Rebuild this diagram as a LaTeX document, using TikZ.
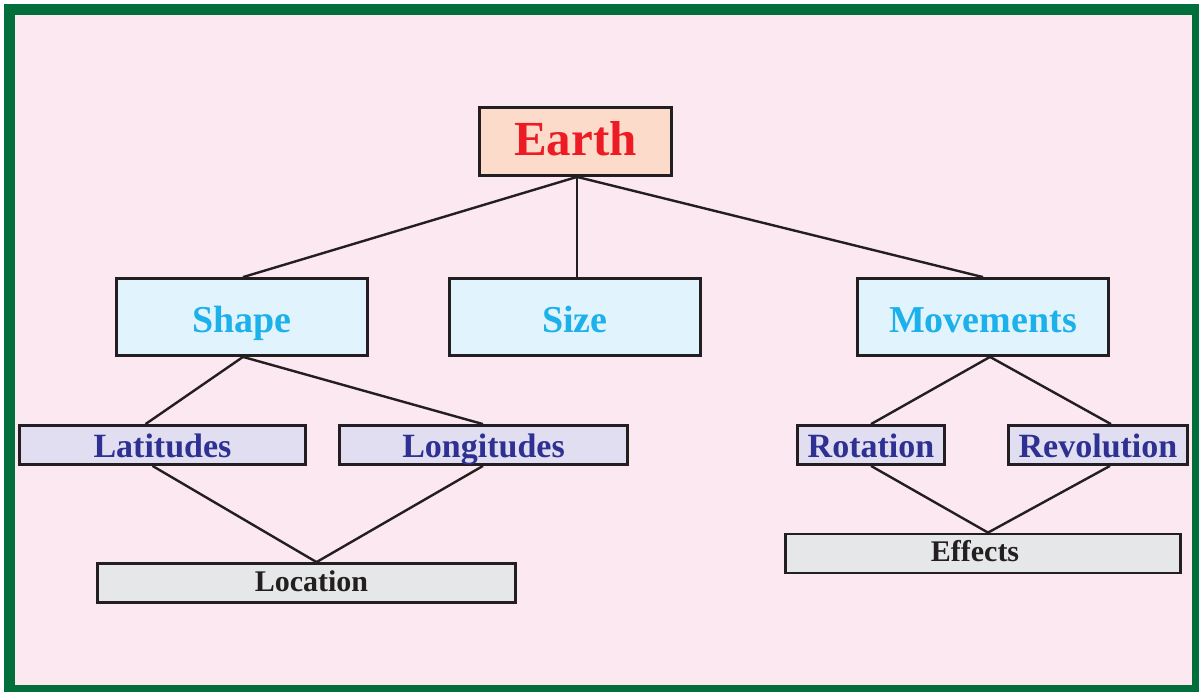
\documentclass[tikz,border=0pt]{standalone}
\usepackage{fontspec}
\setmainfont{Liberation Serif}
\usetikzlibrary{calc}
\definecolor{bgpink}{HTML}{FCE8F0}
\definecolor{frame}{HTML}{006F3C}
\definecolor{earthfill}{HTML}{FDDBCA}
\definecolor{earthred}{HTML}{ED1C24}
\definecolor{bluefill}{HTML}{E1F4FD}
\definecolor{cyantext}{HTML}{1CB1EA}
\definecolor{lavfill}{HTML}{E0DEF0}
\definecolor{navy}{HTML}{2E3192}
\definecolor{grayfill}{HTML}{E6E7E8}
\definecolor{darktext}{HTML}{231F20}
\definecolor{linecol}{HTML}{231F20}
\tikzset{
  box/.style={draw=linecol, line width=2.8pt, rectangle, inner sep=0pt, font=\bfseries},
  topbox/.style={box, fill=earthfill, text=earthred, minimum width=192pt, minimum height=68pt, text height=27pt, text depth=0pt, font=\bfseries\fontsize{49}{51}\selectfont},
  midbox/.style={box, fill=bluefill, text=cyantext, minimum width=251pt, minimum height=77pt, text height=30pt, text depth=0pt, font=\bfseries\fontsize{38}{40}\selectfont},
  subbox/.style={box, fill=lavfill, text=navy, minimum height=39pt, text height=24pt, text depth=0pt, font=\bfseries\fontsize{34}{36}\selectfont},
  endbox/.style={box, fill=grayfill, text=darktext, minimum height=39pt, text height=22pt, text depth=6pt, font=\bfseries\fontsize{30}{32}\selectfont},
  link/.style={draw=linecol, line width=2.4pt}
}
\begin{document}
\begin{tikzpicture}[x=1pt,y=-1pt]
\useasboundingbox (0,0) rectangle (1199,691);
\fill[white] (0,0) rectangle (1199,691);
\fill[bgpink] (15,15) rectangle (1192,685);
\draw[frame, line width=11pt] (9.5,9.5) rectangle (1197.5,690.5);

\node[topbox] (earth) at (575.5,141.5) {Earth};
\node[midbox] (shape) at (242,317) {Shape};
\node[midbox] (size) at (575,317) {Size};
\node[midbox] (move) at (983,317) {Movements};
\node[subbox, minimum width=286pt] (lat) at (162.5,445) {Latitudes};
\node[subbox, minimum width=288pt] (lon) at (483.5,445) {Longitudes};
\node[subbox, minimum width=147pt] (rot) at (871,445) {Rotation};
\node[subbox, minimum width=179pt] (rev) at (1098,445) {Revolution};
\node[endbox, minimum width=418pt] (loc) at (306.5,583) {\hspace*{10pt}Location};
\node[endbox, minimum width=395pt] (eff) at (983,553.5) {\hspace*{-16pt}Effects};

\draw[link] ([xshift=1.5pt]earth.south) -- ([xshift=1pt]shape.north);
\draw[link] ([xshift=1.5pt]earth.south) -- ([xshift=2pt]size.north);
\draw[link] ([xshift=1.5pt]earth.south) -- (move.north);
\draw[link] ([xshift=1pt]shape.south) -- ([xshift=-17pt]lat.north);
\draw[link] ([xshift=1pt]shape.south) -- ([xshift=-0.5pt]lon.north);
\draw[link] ([xshift=-10pt]lat.south) -- ([xshift=10pt]loc.north);
\draw[link] ([xshift=-0.5pt]lon.south) -- ([xshift=10pt]loc.north);
\draw[link] ([xshift=7pt]move.south) -- (rot.north);
\draw[link] ([xshift=7pt]move.south) -- ([xshift=13pt]rev.north);
\draw[link] (rot.south) -- ([xshift=5pt]eff.north);
\draw[link] ([xshift=12pt]rev.south) -- ([xshift=5pt]eff.north);
\end{tikzpicture}
\end{document}
